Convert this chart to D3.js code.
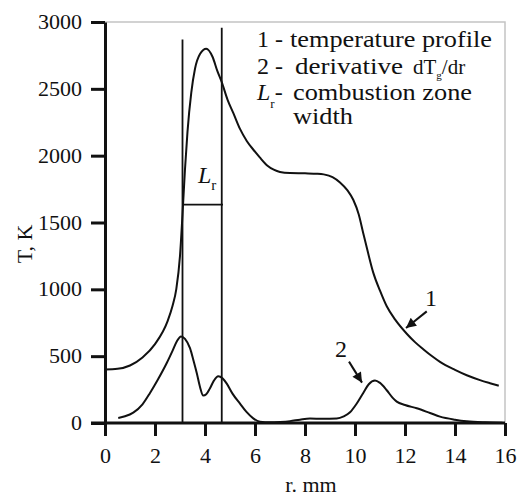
<!DOCTYPE html>
<html>
<head>
<meta charset="utf-8">
<script src="https://cdn.jsdelivr.net/npm/d3@7"></script>
<style>
	html, body { margin: 0; padding: 0; background: #fff; }
	svg { display: block; }
	svg text { font-family: "Liberation Serif", "Times New Roman", serif !important; fill: #111; }
	.axis path, .axis line { stroke: #111; }
</style>
</head>
<body>
<div id="chart"></div>
<script>
// curve 1: temperature profile, [r (mm), T (K)]
const tempProfile = [
	[0, 400], [0.5, 405], [1.0, 430], [1.5, 490], [2.0, 590], [2.5, 760],
	[2.7, 875], [2.85, 1000], [3.0, 1250], [3.1, 1560], [3.2, 1900], [3.3, 2180],
	[3.45, 2470], [3.6, 2650], [3.8, 2760], [4.05, 2800], [4.3, 2740], [4.5, 2630],
	[4.67, 2550], [4.9, 2420], [5.13, 2320], [5.4, 2200], [5.67, 2110], [6.0, 2030],
	[6.2, 1985], [6.5, 1925], [6.75, 1895], [7.0, 1878], [7.4, 1870], [8.0, 1868],
	[8.5, 1865], [8.75, 1860], [9.1, 1840], [9.4, 1800], [9.7, 1740], [9.93, 1670],
	[10.15, 1560], [10.33, 1420], [10.5, 1290], [10.73, 1125], [11.0, 990], [11.27, 873],
	[11.6, 775], [12.07, 668], [12.4, 605], [12.73, 552], [13.1, 497], [13.4, 457],
	[14.0, 397], [14.47, 357], [15.0, 321], [15.4, 298], [15.75, 279],
];

// curve 2: derivative dTg/dr (same T scale)
const derivative = [
	[0.53, 37], [0.8, 50], [1.13, 78], [1.5, 140], [1.8, 225], [2.1, 320],
	[2.47, 449], [2.7, 540], [2.87, 610], [3.04, 648], [3.2, 630], [3.4, 560],
	[3.55, 460], [3.67, 374], [3.8, 270], [3.93, 205], [4.05, 215], [4.2, 260],
	[4.35, 315], [4.53, 350], [4.7, 335], [4.87, 295], [5.1, 220], [5.4, 145],
	[5.65, 85], [5.93, 35], [6.2, 10], [6.6, 5], [7.0, 8], [7.4, 14],
	[7.8, 25], [8.2, 33], [8.7, 32], [9.27, 34], [9.55, 50], [9.8, 80],
	[10.05, 140], [10.33, 225], [10.55, 290], [10.8, 318], [11.0, 300], [11.27, 245],
	[11.5, 190], [11.67, 160], [12.0, 135], [12.47, 110], [13.0, 75], [13.4, 48],
	[14.0, 25], [14.47, 13], [15.2, 5], [15.9, 2],
];

// combustion zone boundaries and width marker
const zoneEdges = [[3.1, 2870], [4.67, 2957]];
const zoneWidthLine = [[3.1, 1634], [4.72, 1634]];

const xTicks = [0, 2, 4, 6, 8, 10, 12, 14, 16];
const yTicks = [0, 500, 1000, 1500, 2000, 2500, 3000];

// curve labels: text position, arrow tail, arrow tip
const curveLabels = [
	{ text: '1', at: [13.04, 872], from: [12.87, 835], to: [12.04, 711] },
	{ text: '2', at: [9.44, 497], from: [9.76, 459], to: [10.28, 302] },
];

const width = 521;
const height = 496;
const margin = { left: 105, right: 16, top: 22, bottom: 73 };

const x = d3.scaleLinear().domain([0, 16]).range([margin.left, width - margin.right]);
const y = d3.scaleLinear().domain([0, 3000]).range([height - margin.bottom, margin.top]);

const svg = d3.select('#chart').append('svg')
	.attr('width', width)
	.attr('height', height);

svg.append('defs').append('marker')
	.attr('id', 'arrow')
	.attr('viewBox', '0 0 10 10')
	.attr('refX', 10)
	.attr('refY', 5)
	.attr('markerWidth', 14)
	.attr('markerHeight', 10)
	.attr('markerUnits', 'userSpaceOnUse')
	.attr('orient', 'auto')
	.append('path')
	.attr('d', 'M0,0 L10,5 L0,10 Z')
	.attr('fill', '#111');

// light frame on top and right
svg.append('path')
	.attr('d', `M${ x(0) },${ y(3000) }H${ x(16) }V${ y(0) }`)
	.attr('fill', 'none')
	.attr('stroke', '#c4c4c4')
	.attr('stroke-width', 1.5);

const line = d3.line()
	.x((d) => x(d[0]))
	.y((d) => y(d[1]))
	.curve(d3.curveMonotoneX);

svg.append('path')
	.datum(tempProfile)
	.attr('d', line)
	.attr('fill', 'none')
	.attr('stroke', '#111')
	.attr('stroke-width', 2);

svg.append('path')
	.datum(derivative)
	.attr('d', line)
	.attr('fill', 'none')
	.attr('stroke', '#111')
	.attr('stroke-width', 2);

svg.selectAll('line.zone-edge')
	.data(zoneEdges)
	.enter()
	.append('line')
	.attr('class', 'zone-edge')
	.attr('x1', (d) => x(d[0]))
	.attr('x2', (d) => x(d[0]))
	.attr('y1', y(0))
	.attr('y2', (d) => y(d[1]))
	.attr('stroke', '#111')
	.attr('stroke-width', 1.8);

svg.append('line')
	.attr('x1', x(zoneWidthLine[0][0]))
	.attr('x2', x(zoneWidthLine[1][0]))
	.attr('y1', y(zoneWidthLine[0][1]))
	.attr('y2', y(zoneWidthLine[1][1]))
	.attr('stroke', '#111')
	.attr('stroke-width', 1.8);

// L_r label inside the zone
const lr = svg.append('text')
	.attr('x', x(3.72))
	.attr('y', y(1797))
	.attr('font-size', 24);
lr.append('tspan').attr('font-style', 'italic').text('L');
lr.append('tspan').attr('font-size', 15).attr('dy', 7).text('r');

// axes
const yAxis = svg.append('g')
	.attr('class', 'axis')
	.attr('transform', `translate(${ margin.left },0)`)
	.call(d3.axisLeft(y).tickValues(yTicks).tickFormat(d3.format('d'))
		.tickSize(14).tickPadding(9).tickSizeOuter(0));

const xAxis = svg.append('g')
	.attr('class', 'axis')
	.attr('transform', `translate(0,${ y(0) })`)
	.call(d3.axisBottom(x).tickValues(xTicks).tickFormat(d3.format('d'))
		.tickSize(13).tickPadding(11).tickSizeOuter(0));

[yAxis, xAxis].forEach((g) => {
	g.select('.domain').attr('stroke-width', 3);
	g.selectAll('.tick line').attr('stroke-width', 3);
	g.selectAll('.tick text').attr('font-size', 22);
});
yAxis.selectAll('.tick text').attr('dy', '0.3em');
// bottom axis line runs left to meet the zero tick
xAxis.select('.domain').attr('d', `M${ margin.left - 14 },0H${ x(16) }`);

svg.append('text')
	.attr('transform', 'translate(32,244) rotate(-90)')
	.attr('text-anchor', 'middle')
	.attr('font-size', 22)
	.text('T, K');

svg.append('text')
	.attr('x', 311)
	.attr('y', 492)
	.attr('text-anchor', 'middle')
	.attr('font-size', 22)
	.text('r. mm');

// curve number labels with arrows
curveLabels.forEach((d) => {
	svg.append('text')
		.attr('x', x(d.at[0]))
		.attr('y', y(d.at[1]))
		.attr('text-anchor', 'middle')
		.attr('font-size', 24)
		.text(d.text);
	svg.append('line')
		.attr('x1', x(d.from[0]))
		.attr('y1', y(d.from[1]))
		.attr('x2', x(d.to[0]))
		.attr('y2', y(d.to[1]))
		.attr('stroke', '#111')
		.attr('stroke-width', 2)
		.attr('marker-end', 'url(#arrow)');
});

// legend block, each piece stretched to the width it has in the figure
const legend = svg.append('g').attr('font-size', 24);

function legendText( tx, ty, str, len ) {
	const t = legend.append('text').attr('x', tx).attr('y', ty).text(str);
	if ( len ) {
		t.attr('textLength', len).attr('lengthAdjust', 'spacingAndGlyphs');
	}
	return t;
}

legendText(257, 47, '1 -');
legendText(290, 47, 'temperature profile', 202);

legendText(257, 74, '2 -');
legendText(295, 74, 'derivative', 108);
const dt = legend.append('text').attr('x', 413).attr('y', 74).attr('font-size', 21);
dt.append('tspan').text('dT');
dt.append('tspan').attr('font-size', 11).attr('dy', 5).text('g');
dt.append('tspan').attr('dy', -5).text('/dr');

const lg = legend.append('text').attr('x', 257).attr('y', 100);
lg.append('tspan').attr('font-style', 'italic').text('L');
lg.append('tspan').attr('font-size', 13).attr('dy', 8).text('r');
lg.append('tspan').attr('dy', -8).text('-');
legendText(293, 100, 'combustion zone', 179);

legendText(293, 124, 'width', 60);
</script>
</body>
</html>
